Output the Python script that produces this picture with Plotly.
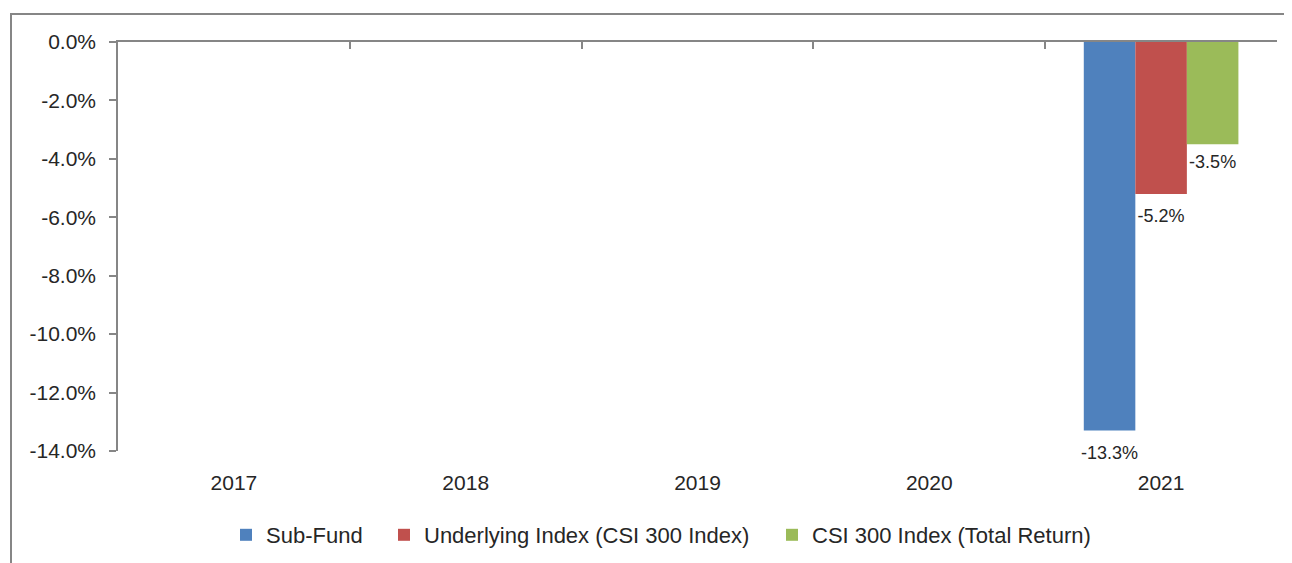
import plotly.graph_objects as go

years = ["2017", "2018", "2019", "2020", "2021"]
sub_fund = [None, None, None, None, -13.3]
underlying = [None, None, None, None, -5.2]
csi_tr = [None, None, None, None, -3.5]

series_names = ["Sub-Fund", "Underlying Index (CSI 300 Index)", "CSI 300 Index (Total Return)"]
colors = ["#4F81BD", "#C0504D", "#9BBB59"]
ytick_vals = [0, -2, -4, -6, -8, -10, -12, -14]

FONT = "Liberation Sans, Arial, sans-serif"
TXT = "#262626"
AX = "#868686"

# page body has an 8px margin, so the figure is sized to fill the rest of the window
W, H = 1284, 555
L, R, T, B = 110, 15, 34, 112
PW, PH = W - L - R, H - T - B

def px_x(f):
    return (f - L) / PW

def px_y(f):
    return (H - B - f) / PH

legend_names = ["legend", "legend2", "legend3"]
legend_left = [218, 376, 764]
label_gap = [22, 22, 14]   # invisible marker size controlling the label offset below the bar end

fig = go.Figure()
for i, (name, vals, col, lg) in enumerate(zip(series_names, [sub_fund, underlying, csi_tr], colors, legend_names)):
    fig.add_trace(go.Bar(
        x=years, y=vals, name=name, marker_color=col, marker_line_width=0,
        legend=lg, offsetgroup=str(i), hoverinfo="skip",
    ))
for i, vals in enumerate([sub_fund, underlying, csi_tr]):
    fig.add_trace(go.Scatter(
        x=years, y=vals, mode="markers+text", offsetgroup=str(i),
        marker=dict(size=label_gap[i], opacity=0), texttemplate="%{y:.1f}%",
        textposition="bottom center", cliponaxis=False, showlegend=False, hoverinfo="skip",
        textfont=dict(size=18, color=TXT, family=FONT),
    ))

# invisible trace for the top category axis (tick marks at boundaries)
fig.add_trace(go.Scatter(x=years, y=[None] * len(years), xaxis="x2", showlegend=False,
                         hoverinfo="skip", mode="markers"))

leg_common = dict(orientation="h", yanchor="middle", y=px_y(527), xanchor="left",
                  font=dict(size=22, color=TXT, family=FONT), bgcolor="rgba(0,0,0,0)")

fig.update_layout(
    width=W, height=H,
    margin=dict(l=L, r=R, t=T, b=B, autoexpand=False),
    paper_bgcolor="white", plot_bgcolor="white",
    font=dict(family=FONT, color=TXT),
    barmode="group", bargap=0.333, bargroupgap=0,
    scattermode="group", scattergap=0.333,
    xaxis=dict(type="category", categoryorder="array", categoryarray=years,
               range=[-0.5, 4.5], showline=False, showgrid=False, zeroline=False,
               ticks="", ticklabelstandoff=17, automargin=False,
               tickfont=dict(size=21, color=TXT, family=FONT)),
    xaxis2=dict(type="category", categoryorder="array", categoryarray=years,
                range=[-0.5, 4.5], overlaying="x", side="top", anchor="y",
                showline=True, linecolor=AX, linewidth=1.5, showgrid=False,
                ticks="inside", tickson="boundaries", ticklen=7, tickwidth=1.5, tickcolor=AX,
                showticklabels=False),
    yaxis=dict(range=[-14, 0], tickvals=ytick_vals, ticktext=[f"{v:.1f}%" for v in ytick_vals],
               showline=True, linecolor=AX, linewidth=1.5, showgrid=False, zeroline=False,
               ticks="outside", ticklen=7, tickwidth=1.5, tickcolor=AX, ticklabelstandoff=9,
               automargin=False, tickfont=dict(size=21, color=TXT, family=FONT)),
    legend=dict(x=px_x(legend_left[0]), **leg_common),
    legend2=dict(x=px_x(legend_left[1]), **leg_common),
    legend3=dict(x=px_x(legend_left[2]), **leg_common),
    showlegend=True,
)

# outer chart border (extends beyond the visible image on the right and bottom)
fig.add_shape(type="rect", xref="paper", yref="paper",
              x0=px_x(3), x1=1.2, y0=-0.6, y1=px_y(6),
              line=dict(color=AX, width=2), fillcolor="rgba(0,0,0,0)", layer="below")

fig.write_html("out.html")
